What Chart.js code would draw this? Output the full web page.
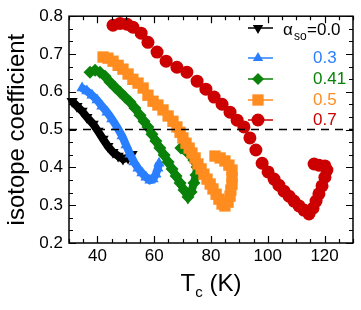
<!DOCTYPE html>
<html>
<head>
<meta charset="utf-8">
<script src="https://cdn.jsdelivr.net/npm/chart.js@4/dist/chart.umd.min.js"></script>
<style>
  html, body { margin: 0; padding: 0; background: #fff; }
  #wrap { width: 361px; height: 310px; }
</style>
</head>
<body>
<div id="wrap"><canvas id="chart"></canvas></div>
<script>
// alpha_so value of each curve (legend text)
const alphaLabels = ["0.0", "0.3", "0.41", "0.5", "0.7"];

// Tc (K) and isotope coefficient
const tc00 = [31.1, 32.8, 34.6, 36.3, 38.5, 40.2, 42.0, 43.7, 45.5, 47.3, 49.0, 50.8, 52.2];
const iso00 = [0.575, 0.562, 0.549, 0.533, 0.515, 0.496, 0.475, 0.456, 0.440, 0.430, 0.422, 0.425, 0.435];

const tc03 = [34.6, 36.3, 38.1, 39.9, 41.6, 43.4, 45.1, 46.9, 48.7, 50.1, 51.5, 52.9, 54.3, 55.7, 57.1, 58.5, 59.6, 60.6, 61.3, 61.7];
const iso03 = [0.610, 0.602, 0.591, 0.578, 0.562, 0.546, 0.528, 0.507, 0.483, 0.459, 0.435, 0.414, 0.398, 0.385, 0.374, 0.366, 0.369, 0.382, 0.398, 0.411];

const tc041 = [37.4, 39.2, 40.9, 42.7, 44.4, 46.2, 48.0, 49.7, 51.5, 53.2, 55.0, 56.4, 57.8, 59.2, 60.6, 62.0, 63.5, 64.9, 66.3, 67.7, 69.1, 70.5, 71.9, 73.0, 74.0, 74.7, 75.1, 74.0, 71.9, 69.4];
const iso041 = [0.652, 0.657, 0.652, 0.641, 0.626, 0.612, 0.599, 0.586, 0.573, 0.557, 0.538, 0.522, 0.507, 0.488, 0.470, 0.451, 0.433, 0.414, 0.396, 0.377, 0.359, 0.340, 0.322, 0.335, 0.359, 0.380, 0.401, 0.419, 0.438, 0.451];

const tc05 = [42.0, 43.7, 45.5, 47.3, 49.0, 50.8, 52.5, 54.3, 56.1, 57.8, 59.6, 61.3, 63.1, 64.9, 66.6,
  68.0, 69.1, 70.1, 71.2, 72.3, 73.3, 74.4, 75.4, 76.5, 77.5, 78.6, 79.7, 80.7, 81.8, 82.8, 83.9,
  84.9, 86.0, 86.7, 87.0, 87.4, 87.4, 87.4, 86.3, 84.9, 83.2, 81.4];
const iso05 = [0.692, 0.689, 0.681, 0.670, 0.660, 0.647, 0.633, 0.623, 0.610, 0.591, 0.575, 0.565, 0.552, 0.536, 0.522,
  0.507, 0.493, 0.478, 0.464, 0.451, 0.438, 0.425, 0.409, 0.396, 0.382, 0.369, 0.356, 0.343, 0.329, 0.316, 0.303,
  0.298, 0.308, 0.324, 0.340, 0.356, 0.374, 0.393, 0.406, 0.417, 0.425, 0.430];

const tc07 = [45.5, 48.0, 50.4, 52.5, 55.4, 57.8, 61.0, 64.2, 68.0, 71.5, 75.1, 78.2, 81.1, 83.9, 86.7, 89.2, 91.6, 93.7, 95.8, 98.0, 100.1, 102.2, 103.9, 105.7, 107.5, 109.2, 111.0, 112.7, 114.5, 115.9, 117.0, 118.0, 119.1, 120.1, 120.8, 120.1, 118.0, 116.3];
const iso07 = [0.776, 0.781, 0.779, 0.771, 0.755, 0.731, 0.705, 0.681, 0.665, 0.652, 0.628, 0.607, 0.586, 0.567, 0.546, 0.525, 0.507, 0.478, 0.446, 0.411, 0.388, 0.369, 0.353, 0.337, 0.324, 0.311, 0.298, 0.287, 0.277, 0.292, 0.311, 0.330, 0.351, 0.374, 0.393, 0.404, 0.406, 0.409];

// dashed reference line at 0.5
const refTc = [30, 130];
const refIso = [0.5, 0.5];

const xTicks = [40, 60, 80, 100, 120];
const yTicks = [0.2, 0.3, 0.4, 0.5, 0.6, 0.7, 0.8];

const FONT = "'Liberation Sans', Arial, sans-serif";

function toPoints(xs, ys) {
  return xs.map((x, i) => ({ x: x, y: ys[i] }));
}

const curves = [
  { xs: tc00, ys: iso00, color: "#000000", style: "triangle", rot: 180, r: 6.5, line: 8, legendR: 6, text: "#000000" },
  { xs: tc03, ys: iso03, color: "#2a7fff", style: "triangle", rot: 0, r: 6.5, line: 8, legendR: 6, text: "#2a7fff" },
  { xs: tc041, ys: iso041, color: "#0a820a", style: "rectRot", rot: 0, r: 6.5, line: 8, legendR: 6, text: "#0a820a" },
  { xs: tc05, ys: iso05, color: "#ff8c1e", style: "rect", rot: 0, r: 8, line: 0, legendR: 8, text: "#ff8c1e" },
  { xs: tc07, ys: iso07, color: "#cc0000", style: "circle", rot: 0, r: 6.5, line: 0, legendR: 6.5, text: "#cc0000" },
];

const datasets = curves.map((c, i) => ({
  label: alphaLabels[i],
  data: toPoints(c.xs, c.ys),
  showLine: c.line > 0,
  borderColor: c.color,
  borderWidth: c.line,
  backgroundColor: c.color,
  pointStyle: c.style,
  rotation: c.rot,
  pointRadius: c.r,
  pointBorderWidth: 0,
  pointBackgroundColor: c.color,
  order: curves.length - i,
  clip: false,
}));

datasets.push({
  label: "ref",
  data: toPoints(refTc, refIso),
  showLine: true,
  borderColor: "#000",
  borderWidth: 1.5,
  borderDash: [8, 6],
  pointRadius: 0,
  order: 0,
});

// frame, inward ticks, axis titles and legend
const decor = {
  id: "decor",
  afterDraw(chart) {
    const ctx = chart.ctx;
    const a = chart.chartArea;
    const xs = chart.scales.x;
    const ys = chart.scales.y;
    ctx.save();
    ctx.strokeStyle = "#000";
    ctx.lineWidth = 1.5;
    ctx.strokeRect(a.left, a.top, a.right - a.left, a.bottom - a.top);

    ctx.lineWidth = 1.2;
    ctx.beginPath();
    for (let v = 30; v <= 130; v += 5) {
      const px = Math.round(xs.getPixelForValue(v)) + 0.5;
      const len = xTicks.includes(v) ? 7 : 4;
      ctx.moveTo(px, a.bottom); ctx.lineTo(px, a.bottom - len);
      ctx.moveTo(px, a.top); ctx.lineTo(px, a.top + len);
    }
    for (let k = 0; k <= 18; k++) {
      const v = 0.2 + k * 0.1 / 3;
      const py = Math.round(ys.getPixelForValue(v)) + 0.5;
      const len = k % 3 === 0 ? 7 : 4;
      ctx.moveTo(a.left, py); ctx.lineTo(a.left + len, py);
      ctx.moveTo(a.right, py); ctx.lineTo(a.right - len, py);
    }
    ctx.stroke();

    // axis titles
    ctx.fillStyle = "#000";
    ctx.font = "24px " + FONT;
    ctx.textBaseline = "middle";
    ctx.textAlign = "center";
    ctx.save();
    ctx.translate(17, (a.top + a.bottom) / 2);
    ctx.rotate(-Math.PI / 2);
    ctx.fillText("isotope coefficient", 0, 0);
    ctx.restore();

    ctx.textAlign = "left";
    ctx.textBaseline = "alphabetic";
    const cx = (a.left + a.right) / 2;
    const wT = ctx.measureText("T").width;
    ctx.font = "15px " + FONT;
    const wc = ctx.measureText("c").width;
    ctx.font = "24px " + FONT;
    const wK = ctx.measureText(" (K)").width;
    let x0 = cx - (wT + wc + wK) / 2;
    ctx.fillText("T", x0, 291);
    ctx.font = "15px " + FONT;
    ctx.fillText("c", x0 + wT, 297);
    ctx.font = "24px " + FONT;
    ctx.fillText(" (K)", x0 + wT + wc, 291);

    // legend
    const rows = [28, 58, 79, 100, 120];
    curves.forEach((c, i) => {
      const y = rows[i];
      ctx.strokeStyle = c.color;
      ctx.lineWidth = 1.5;
      ctx.beginPath();
      ctx.moveTo(248, y); ctx.lineTo(273, y);
      ctx.stroke();
      ctx.fillStyle = c.color;
      Chart.helpers.drawPoint(ctx, { pointStyle: c.style, rotation: c.rot, radius: c.legendR, borderWidth: 0 }, 258, y);
      ctx.fillStyle = c.text;
      ctx.textBaseline = "middle";
      ctx.font = "17px " + FONT;
      if (i === 0) {
        ctx.fillText("\u03b1", 283, y + 2);
        ctx.font = "12px " + FONT;
        ctx.fillText("so", 294, y + 9);
        ctx.font = "17px " + FONT;
        ctx.fillText("=" + alphaLabels[i], 307, y + 2);
      } else {
        ctx.fillText(alphaLabels[i], 313, y);
      }
    });
    ctx.restore();
  },
};

new Chart(document.getElementById("chart"), {
  type: "scatter",
  data: { datasets: datasets },
  options: {
    responsive: true,
    maintainAspectRatio: false,
    animation: false,
    layout: { padding: { top: 16, right: 8, left: 0, bottom: 0 } },
    plugins: { legend: { display: false }, tooltip: { enabled: false } },
    scales: {
      x: {
        type: "linear",
        min: 30,
        max: 130,
        afterBuildTicks: (s) => { s.ticks = xTicks.map((v) => ({ value: v })); },
        afterFit: (s) => { s.height = 67; },
        grid: { display: false, drawTicks: false },
        border: { display: false },
        ticks: { padding: 3, color: "#000", maxRotation: 0, font: { family: FONT, size: 17 } },
      },
      y: {
        type: "linear",
        min: 0.2,
        max: 0.8,
        afterBuildTicks: (s) => { s.ticks = yTicks.map((v) => ({ value: v })); },
        afterFit: (s) => { s.width = 69; },
        grid: { display: false, drawTicks: false },
        border: { display: false },
        ticks: { padding: 6, color: "#000", font: { family: FONT, size: 17 }, callback: (v) => v.toFixed(1) },
      },
    },
  },
  plugins: [decor],
});
</script>
</body>
</html>
